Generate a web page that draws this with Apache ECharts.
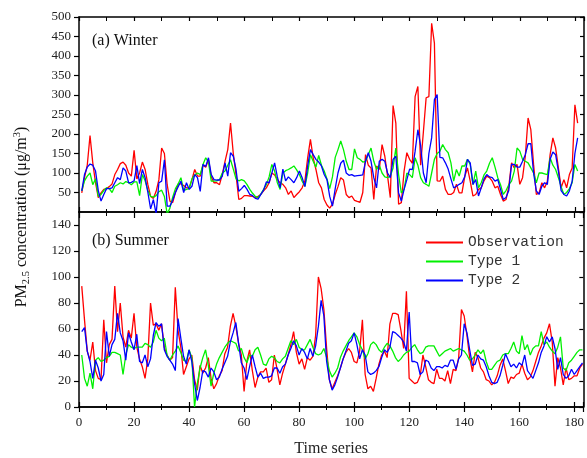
<!DOCTYPE html>
<html><head><meta charset="utf-8">
<script src="https://cdn.jsdelivr.net/npm/echarts@6/dist/echarts.min.js"></script>
<style>html,body{margin:0;padding:0;background:#fff}#c{width:587px;height:458px}</style>
</head><body><div id="c"></div>
<script>
// ---- Data (index 1..N on the time axis) ----
const winterObs = [
49,88,120,196,126,75,37,49,58,60,
65,72,96,109,124,128,120,100,92,158,
85,100,128,109,70,40,35,53,83,164,
150,70,28,24,50,72,72,68,62,62,
83,109,92,92,120,115,134,90,75,75,
70,96,130,160,228,150,95,32,35,42,
42,41,40,37,40,45,54,62,75,100,
95,83,75,71,62,45,54,37,45,52,
62,80,139,186,139,109,75,62,32,18,
10,20,45,65,88,82,45,37,41,30,
27,25,50,147,120,113,32,118,109,173,
143,92,37,273,228,20,24,105,152,135,
125,296,322,120,205,293,296,484,433,80,
79,92,58,45,45,50,71,49,49,90,
113,79,41,45,58,62,80,92,88,79,
62,66,45,28,32,66,126,113,122,71,
88,143,241,211,122,45,49,75,62,79,
147,190,164,113,62,83,62,96,113,275,228];
const winterType1 = [
54,80,92,100,70,85,40,45,55,62,
60,50,66,70,75,72,78,75,70,77,
77,42,96,80,55,40,38,42,52,56,
40,-5,10,38,60,72,88,55,58,60,
85,95,100,96,122,139,128,79,79,80,
83,100,105,120,134,110,85,80,83,80,
70,58,48,40,37,46,58,70,90,122,
105,75,58,100,106,109,113,118,108,96,
79,66,100,147,130,115,145,120,105,85,
60,90,140,160,182,160,130,109,109,162,
139,135,128,130,147,164,130,109,120,100,
90,88,92,113,164,96,49,58,100,96,
88,139,120,88,75,71,66,100,135,150,
156,173,160,152,126,79,109,92,118,118,
135,122,70,105,62,75,95,105,125,139,
115,88,70,45,55,70,79,105,164,156,
135,130,126,113,100,75,100,100,98,96,
139,120,109,88,65,45,50,60,75,122,105];
const winterType2 = [
54,96,115,123,120,105,55,28,45,60,
60,62,75,88,83,113,105,75,76,80,
119,73,109,88,50,8,32,-5,75,79,
134,15,15,30,50,65,79,50,75,58,
66,96,88,53,122,117,139,96,83,82,
82,92,126,92,152,143,109,53,60,68,
58,45,42,35,33,45,56,77,75,100,
126,90,62,110,80,90,83,75,88,105,
88,65,118,160,147,135,128,118,96,83,
40,15,60,100,125,133,100,94,96,92,
93,94,95,130,152,130,88,62,130,135,
130,100,88,135,143,49,28,58,83,110,
109,156,211,170,100,75,150,190,288,301,
140,139,126,110,85,62,66,71,75,90,
135,126,71,83,41,62,85,96,90,88,
79,83,58,32,37,55,122,122,115,115,
130,147,175,175,100,54,45,66,75,71,
135,154,147,105,55,45,41,54,79,150,190];

const summerObs = [
93,67,43,36,50,28,22,21,67,34,
48,52,93,58,80,54,46,59,53,72,
46,37,31,22,37,80,63,64,59,64,
46,40,36,38,92,59,46,25,31,37,
40,21,13,32,26,30,38,22,14,18,
24,28,41,46,62,72,62,49,40,12,
35,44,28,15,23,27,27,30,19,21,
40,29,17,26,33,40,48,58,42,33,
37,29,38,36,39,55,100,91,75,45,
21,14,19,24,30,37,42,45,42,35,
34,43,67,25,14,16,12,22,33,40,
43,38,64,72,72,71,59,45,89,22,
20,18,19,24,40,31,21,19,18,29,
22,22,20,28,18,29,28,38,75,70,
55,38,27,42,38,30,27,21,20,17,
19,24,32,37,28,18,23,22,25,26,
33,26,21,23,28,35,42,47,53,57,
64,50,16,38,30,17,30,21,22,24,
24,30,33];
const summerType1 = [
40,22,16,26,14,36,38,35,36,38,
39,42,42,41,40,25,40,48,46,45,
46,46,46,49,48,46,50,59,53,51,
53,40,36,40,43,47,42,36,35,44,
38,0,18,30,38,44,32,16,26,33,
38,42,46,49,51,50,49,43,45,38,
34,40,39,44,46,40,33,32,37,39,
38,35,34,37,39,45,51,48,52,46,
44,44,48,52,46,41,40,41,45,38,
28,23,26,30,38,43,47,51,54,57,
54,48,44,37,41,48,50,48,44,42,
46,49,47,43,38,35,37,40,42,43,
46,48,44,41,42,46,47,47,47,43,
39,41,43,44,45,43,44,45,44,43,
40,36,37,40,44,41,44,35,29,29,
32,35,36,40,41,41,45,50,43,41,
55,44,48,40,45,47,47,58,48,50,
46,43,41,46,54,30,28,34,36,39,
42,44,44];
const summerType2 = [
58,61,43,35,22,36,30,20,25,58,
39,48,52,72,57,51,36,57,50,44,
56,35,34,40,31,37,55,65,62,64,
44,39,36,33,28,68,53,39,33,44,
35,18,5,15,28,27,23,30,27,21,
23,29,34,39,50,57,65,49,34,30,
21,31,40,31,23,26,22,23,23,24,
30,30,26,31,33,40,45,51,47,40,
45,42,37,45,39,47,62,82,70,35,
21,13,17,23,30,37,43,49,51,57,
48,37,44,40,27,25,26,28,31,38,
44,42,46,58,57,55,53,50,43,73,
35,35,34,25,27,36,35,30,28,31,
31,30,32,31,36,36,29,37,40,64,
57,44,32,33,40,37,36,31,24,19,
18,19,24,32,41,36,31,33,30,34,
32,40,28,25,22,28,34,42,47,54,
50,54,45,29,38,25,22,24,29,25,
28,31,34];

const seriesNames = ['Observation', 'Type 1', 'Type 2'];
const seriesColors = ['#ff0000', '#00f000', '#0000ff'];
const panelTitles = ['(a) Winter', '(b) Summer'];
const xTicks = [0, 20, 40, 60, 80, 100, 120, 140, 160, 180];

function pts(arr) { return arr.map((v, i) => [i + 1, v]); }

const serif = 'Liberation Serif';
const lineCol = '#000';
const labCol = '#222';
const X_MAX = 183.3;

function xAxisDef(grid, pos, tickInside, tickLen, minorLen, showLabel, extra) {
  return Object.assign({
    type: 'value', gridIndex: grid, position: pos, min: 0, max: X_MAX, interval: 20,
    axisLine: { show: true, onZero: false, lineStyle: { color: lineCol, width: 1.5 } },
    axisTick: { show: true, inside: tickInside, length: tickLen, lineStyle: { color: lineCol, width: 1.2 } },
    minorTick: { show: true, splitNumber: 2, length: minorLen, lineStyle: { color: lineCol, width: 1 } },
    splitLine: { show: false },
    axisLabel: showLabel ? {
      show: true, margin: 9, color: labCol, fontFamily: serif, fontSize: 13,
      showMaxLabel: false,
      formatter: v => (xTicks.indexOf(v) >= 0 ? String(v) : '')
    } : { show: false }
  }, extra || {});
}
function yAxisDef(grid, pos, min, max, interval, tickInside, tickLen, showLabel, extraLabel) {
  return {
    type: 'value', gridIndex: grid, position: pos, min: min, max: max, interval: interval,
    axisLine: { show: true, onZero: false, lineStyle: { color: lineCol, width: 1.5 } },
    axisTick: { show: true, inside: tickInside, length: tickLen, lineStyle: { color: lineCol, width: 1.2 } },
    splitLine: { show: false },
    axisLabel: showLabel ? Object.assign({
      show: true, margin: 8, color: labCol, fontFamily: serif, fontSize: 13
    }, extraLabel || {}) : { show: false }
  };
}

const chart = echarts.init(document.getElementById('c'), null, { renderer: 'canvas' });

function mkSeries(name, color, data, xi, yi) {
  return {
    name: name, type: 'line', xAxisIndex: xi, yAxisIndex: yi, data: pts(data),
    showSymbol: false, symbol: 'none', animation: false, clip: true,
    lineStyle: { color: color, width: 1.3 }, itemStyle: { color: color }
  };
}

const option = {
  animation: false,
  backgroundColor: '#fff',
  grid: [
    { left: 79, right: 3, top: 17, height: 195 },
    { left: 79, right: 3, top: 212, height: 195 }
  ],
  xAxis: [
    xAxisDef(0, 'bottom', true, 5, 3, false),
    xAxisDef(0, 'top', true, 4, 4, false),
    xAxisDef(1, 'bottom', false, 5, 3, true, {
      name: 'Time series', nameLocation: 'middle', nameGap: 34,
      nameTextStyle: { color: labCol, fontFamily: serif, fontSize: 16 }
    }),
    xAxisDef(1, 'bottom', true, 5, 3, false),
    xAxisDef(1, 'top', true, 6, 4, false)
  ],
  yAxis: [
    yAxisDef(0, 'left', 0, 500, 50, false, 5, true, { showMinLabel: false }),
    yAxisDef(0, 'right', 0, 500, 50, true, 4, false),
    yAxisDef(1, 'left', 0, 150, 20, false, 5, true, { showMaxLabel: false }),
    yAxisDef(1, 'right', 0, 150, 20, true, 4, false)
  ],
  legend: {
    data: seriesNames, orient: 'vertical', left: 421, top: 230,
    itemWidth: 37, itemHeight: 14, itemGap: 4, icon: 'path://M0,6 L37,6 L37,8 L0,8 Z',
    textStyle: { fontFamily: 'Liberation Mono', fontSize: 14.5, color: '#333', padding: [0, 0, 0, 0] }
  },
  graphic: [
    { type: 'text', left: 92, top: 33, style: { text: panelTitles[0], font: '16px "Liberation Serif"', fill: '#111' } },
    { type: 'text', left: 92, top: 233, style: { text: panelTitles[1], font: '16px "Liberation Serif"', fill: '#111' } },
    {
      type: 'text', x: 22, y: 217, rotation: Math.PI / 2,
      style: {
        text: '{n|PM}{s|2.5}{n| concentration (μg/m}{p|3}{n|)}',
        align: 'center', verticalAlign: 'middle',
        rich: {
          n: { fontFamily: serif, fontSize: 16, fill: '#111', lineHeight: 20, verticalAlign: 'middle' },
          s: { fontFamily: serif, fontSize: 10.5, fill: '#111', lineHeight: 20, verticalAlign: 'bottom' },
          p: { fontFamily: serif, fontSize: 10.5, fill: '#111', lineHeight: 20, verticalAlign: 'top' }
        }
      }
    }
  ],
  series: [
    mkSeries(seriesNames[0], seriesColors[0], winterObs, 0, 0),
    mkSeries(seriesNames[1], seriesColors[1], winterType1, 0, 0),
    mkSeries(seriesNames[2], seriesColors[2], winterType2, 0, 0),
    mkSeries(seriesNames[0], seriesColors[0], summerObs, 2, 2),
    mkSeries(seriesNames[1], seriesColors[1], summerType1, 2, 2),
    mkSeries(seriesNames[2], seriesColors[2], summerType2, 2, 2)
  ]
};
chart.setOption(option);
</script>
</body></html>
